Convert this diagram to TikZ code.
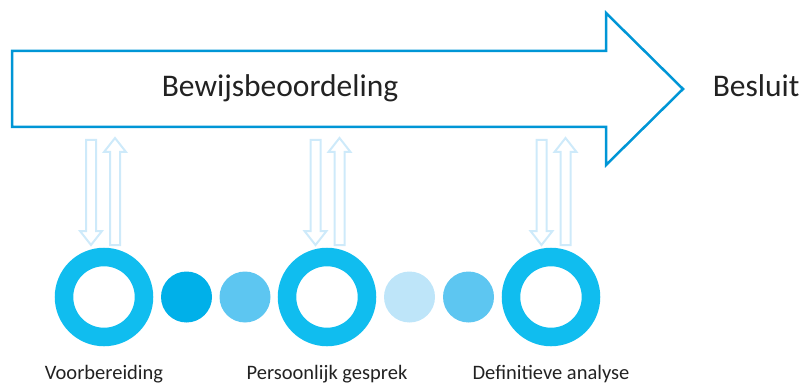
\documentclass[tikz,border=0pt]{standalone}
\usepackage{fontspec}
\setmainfont{Carlito}
\usetikzlibrary{calc}

\definecolor{bigblue}{RGB}{0,150,214}
\definecolor{ringblue}{RGB}{16,189,239}
\definecolor{dotdark}{RGB}{0,176,233}
\definecolor{dotmid}{RGB}{93,198,241}
\definecolor{dotlight}{RGB}{190,229,249}
\definecolor{pairblue}{RGB}{206,234,250}
\definecolor{textgray}{RGB}{34,34,34}

\tikzset{
  ring/.style={circle, draw=ringblue, line width=18.5pt, minimum size=80pt, inner sep=0pt},
  dot/.style={circle, fill=#1, minimum size=51pt, inner sep=0pt},
  phase/.style={anchor=base, font=\fontsize{20.5}{21}\selectfont, text=textgray},
  bigtext/.style={anchor=base, font=\fontsize{31.5}{32}\selectfont, text=textgray},
  pairline/.style={draw=pairblue, line width=2pt, line join=miter},
  duoarrow/.pic={
    % down
    \draw[pairline] (-18,-157) -- (-8,-157) -- (-8,-66) -- (-2,-66) -- (-13,-52)
      -- (-24,-66) -- (-18,-66) -- cycle;
    % up
    \draw[pairline] (6,-52) -- (16,-52) -- (16,-145) -- (22,-145) -- (11,-159)
      -- (0,-145) -- (6,-145) -- cycle;
  }
}

\begin{document}
\begin{tikzpicture}[x=1pt, y=-1pt]

    \useasboundingbox (0,0) rectangle (806,385);

    % Big arrow
    \draw[bigblue, line width=2.5pt, line join=miter] (12,51) -- (606,51) -- (606,13) -- (683,89)
      -- (606,165) -- (606,127) -- (12,127) -- cycle;
    \node[bigtext] (bewijs) at (280,97) {Bewijsbeoordeling};
    \node[bigtext, anchor=base east] (besluit) at (803,97) {Besluit};

    % Phases
    \node[ring] (voor) at (104,297) {};
    \node[dot=dotdark] (d1) at (186.5,297) {};
    \node[dot=dotmid] (d2) at (245,297) {};
    \node[ring] (gesprek) at (327,297) {};
    \node[dot=dotlight] (d3) at (409.5,297) {};
    \node[dot=dotmid] (d4) at (468.5,297) {};
    \node[ring] (analyse) at (551,297) {};

    % Labels
    \node[phase] (lvoor) at (104,379) {Voorbereiding};
    \node[phase] (lgesprek) at (327,379) {Persoonlijk gesprek};
    \node[phase] (lanalyse) at (551,379) {Definitieve analyse};

    % Up and down arrows
    \pic at (voor) {duoarrow};
    \pic at ([xshift=1.5pt]gesprek.center) {duoarrow};
    \pic at ([xshift=3.5pt]analyse.center) {duoarrow};

\end{tikzpicture}
\end{document}
